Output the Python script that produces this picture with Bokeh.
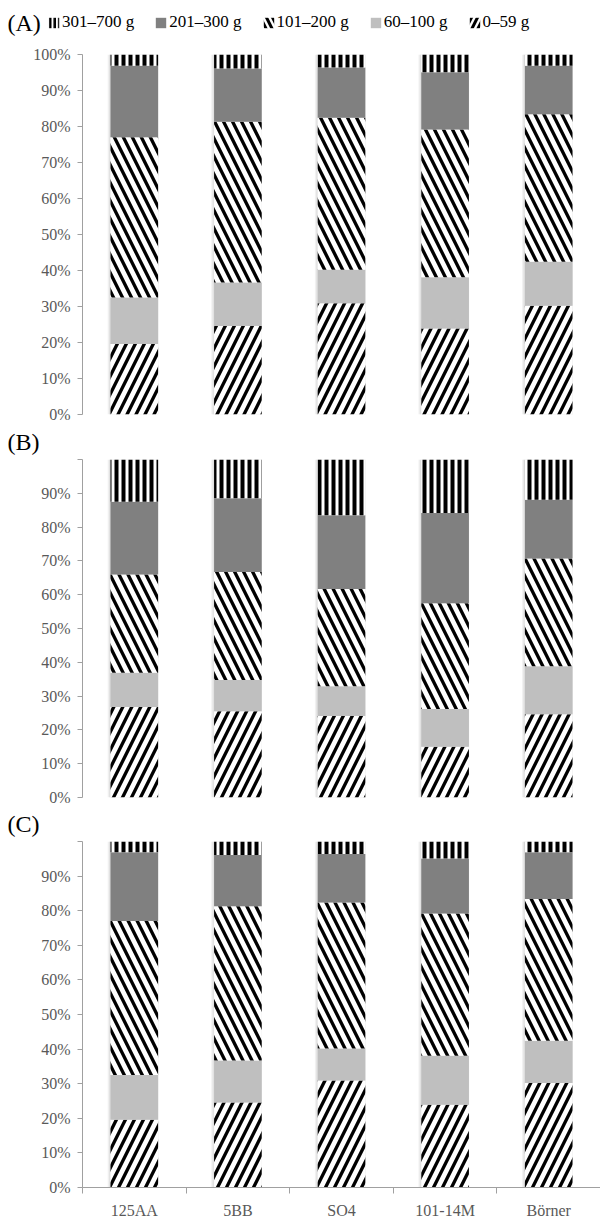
import numpy as np
from bokeh.plotting import figure
from bokeh.layouts import column, row
from bokeh.models import (Range1d, FixedTicker, Label, Legend, LegendItem, ColumnDataSource)
from bokeh.embed import file_html
from bokeh.resources import INLINE

# ---------------- data ----------------
categories = ["125AA", "5BB", "SO4", "101-14M", "Börner"]
series_names = ["0–59 g", "60–100 g", "101–200 g", "201–300 g", "301–700 g"]

# Panel A (percent of each size class)
a_0_59 = [19.6, 24.6, 30.9, 23.9, 30.2]
a_60_100 = [12.9, 12.1, 9.3, 14.2, 12.2]
a_101_200 = [44.5, 44.6, 42.2, 41.1, 41.0]
a_201_300 = [19.9, 14.8, 14.0, 15.9, 13.5]
a_301_700 = [3.1, 3.9, 3.6, 4.9, 3.1]

# Panel B
b_0_59 = [26.8, 25.5, 24.1, 15.0, 24.6]
b_60_100 = [10.1, 9.3, 8.8, 11.2, 14.2]
b_101_200 = [29.1, 31.9, 28.8, 31.3, 31.9]
b_201_300 = [21.5, 21.8, 21.8, 26.7, 17.4]
b_301_700 = [12.5, 11.5, 16.5, 15.8, 11.9]

# Panel C
c_0_59 = [19.6, 24.6, 30.9, 23.9, 30.2]
c_60_100 = [12.9, 12.1, 9.3, 14.2, 12.2]
c_101_200 = [44.5, 44.6, 42.2, 41.1, 41.0]
c_201_300 = [19.9, 14.8, 14.0, 15.9, 13.5]
c_301_700 = [3.1, 3.9, 3.6, 4.9, 3.1]

y_ticks = [0, 10, 20, 30, 40, 50, 60, 70, 80, 90, 100]
y_tick_labels = ["0%", "10%", "20%", "30%", "40%", "50%", "60%", "70%", "80%", "90%", "100%"]

# ---------------- styles ----------------
FONT = "Liberation Serif"
styles = [
    dict(fill_color="white", hatch_pattern="right_diagonal_line", hatch_color="black", hatch_scale=18, hatch_weight=3.3),
    dict(fill_color="#bfbfbf"),
    dict(fill_color="white", hatch_pattern="left_diagonal_line", hatch_color="black", hatch_scale=18, hatch_weight=3.3),
    dict(fill_color="#808080"),
    dict(fill_color="white", hatch_pattern="vertical_line", hatch_color="black", hatch_scale=7, hatch_weight=4),
]
legend_styles = [
    dict(fill_color="white", hatch_pattern="right_diagonal_line", hatch_color="black", hatch_scale=12, hatch_weight=3),
    dict(fill_color="#bfbfbf"),
    dict(fill_color="white", hatch_pattern="left_diagonal_line", hatch_color="black", hatch_scale=12, hatch_weight=3),
    dict(fill_color="#808080"),
    dict(fill_color="white", hatch_pattern="vertical_line", hatch_color="black", hatch_scale=4.5, hatch_weight=2.5),
]

W = 600
LEFT = 82
BAR_W = 0.46
AXIS_GRAY = "#a0a0a0"
LABEL_GRAY = "#595959"


def make_header(height, tag, tag_y, with_legend=False):
    h = figure(width=W, height=height, output_backend="svg", toolbar_location=None,
               x_range=Range1d(0, W), y_range=Range1d(0, height),
               x_axis_type=None, y_axis_type=None, outline_line_color=None,
               min_border_left=0, min_border_right=0, min_border_top=0, min_border_bottom=0,
               background_fill_color="white", border_fill_color="white")
    h.xgrid.visible = False
    h.ygrid.visible = False
    h.add_layout(Label(x=7, y=height - tag_y, x_units="screen", y_units="screen",
                       text=tag, text_font=FONT, text_font_size="24px", text_color="black",
                       text_baseline="middle", text_align="left"))
    if with_legend:
        # zero-size placeholder bars: only their legend swatches are shown
        dummy = ColumnDataSource(dict(x=[0.0], bottom=[0.0], top=[0.0]))
        rs = []
        for st in legend_styles:
            rs.append(h.vbar(x="x", width=0, bottom="bottom", top="top", source=dummy,
                             line_color=None, **st))
        items = [LegendItem(label=series_names[i], renderers=[rs[i]]) for i in [4, 3, 2, 1, 0]]
        lg = Legend(items=items, orientation="horizontal", location=(47, height - tag_y - 10),
                    background_fill_alpha=0, border_line_color=None, padding=0, margin=0,
                    spacing=20, label_standoff=2, glyph_width=13, glyph_height=13,
                    label_text_font=FONT, label_text_font_size="17px", label_text_color="black",
                    label_height=18)
        h.add_layout(lg, "center")
    return h


def make_panel(series, height, top, bottom, show_x, show_100):
    p = figure(width=W, height=height, output_backend="svg", toolbar_location=None,
               x_range=Range1d(0, len(categories)), y_range=Range1d(0, 100),
               min_border_left=LEFT, min_border_right=0, min_border_top=top,
               min_border_bottom=bottom, outline_line_color=None,
               background_fill_color="white", border_fill_color="white")
    p.xgrid.visible = False
    p.ygrid.visible = False
    xs = np.arange(len(categories)) + 0.5

    # soft shadow behind each bar
    p.vbar(x=xs - 0.012, width=BAR_W + 0.03, bottom=0, top=100, fill_color="#f1f1f1",
           line_color=None)
    p.vbar(x=xs - 0.008, width=BAR_W + 0.014, bottom=0, top=100, fill_color="#e2e2e2",
           line_color=None)

    bottom_vals = np.zeros(len(categories))
    for vals, st in zip(series, styles):
        vals = np.array(vals, dtype=float)
        src = ColumnDataSource(dict(x=xs, bottom=bottom_vals.copy(), top=bottom_vals + vals))
        p.vbar(x="x", width=BAR_W, bottom="bottom", top="top", source=src,
               line_color=None, **st)
        bottom_vals = bottom_vals + vals

    ya = p.yaxis[0]
    ya.ticker = FixedTicker(ticks=y_ticks, minor_ticks=[])
    overrides = {t: l for t, l in zip(y_ticks, y_tick_labels)}
    if not show_100:
        overrides[100] = ""
    ya.major_label_overrides = overrides
    ya.axis_line_color = AXIS_GRAY
    ya.major_tick_line_color = AXIS_GRAY
    ya.major_tick_out = 5
    ya.major_tick_in = 0
    ya.minor_tick_line_color = None
    ya.major_label_text_font = FONT
    ya.major_label_text_font_size = "16px"
    ya.major_label_text_color = LABEL_GRAY
    ya.major_label_standoff = 7

    xa = p.xaxis[0]
    if show_x:
        xa.ticker = FixedTicker(ticks=list(xs), minor_ticks=list(range(len(categories) + 1)))
        xa.major_label_overrides = {float(x): c for x, c in zip(xs, categories)}
        xa.major_tick_out = 0
        xa.major_tick_in = 0
        xa.major_tick_line_color = None
        xa.minor_tick_out = 6
        xa.minor_tick_in = 0
        xa.minor_tick_line_color = AXIS_GRAY
        xa.axis_line_color = AXIS_GRAY
        xa.major_label_text_font = FONT
        xa.major_label_text_font_size = "16px"
        xa.major_label_text_color = LABEL_GRAY
        xa.major_label_standoff = 8
    else:
        xa.visible = False
    return p


hA = make_header(45, "(A)", 22, with_legend=True)
pA = make_panel([a_0_59, a_60_100, a_101_200, a_201_300, a_301_700],
                height=377, top=9, bottom=8, show_x=False, show_100=True)
hB = make_header(33, "(B)", 19)
pB = make_panel([b_0_59, b_60_100, b_101_200, b_201_300, b_301_700],
                height=350, top=4, bottom=8, show_x=False, show_100=False)
hC = make_header(32, "(C)", 18)
pC = make_panel([c_0_59, c_60_100, c_101_200, c_201_300, c_301_700],
                height=384, top=4, bottom=31, show_x=True, show_100=False)

layout = column(row(hA), pA, row(hB), pB, row(hC), pC, spacing=0)
open("out.html", "w").write(file_html(layout, INLINE))
